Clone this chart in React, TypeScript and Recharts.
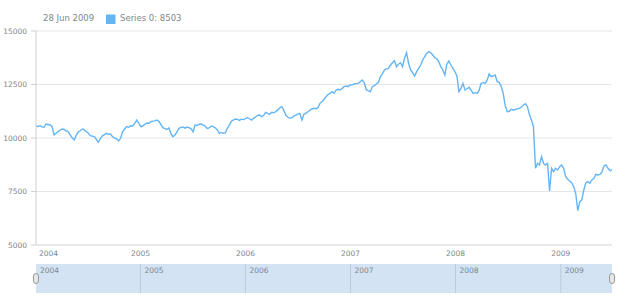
import React from 'react';
import { LineChart, Line, XAxis, YAxis, CartesianGrid, ReferenceLine, ReferenceArea } from 'recharts';

const v2004 = [10560, 10540, 10575, 10520, 10500, 10654, 10630, 10607, 10530, 10140, 10218, 10300, 10374, 10420, 10400, 10327, 10296, 10140, 10010, 9906, 10140, 10280, 10340, 10420, 10380, 10296, 10218, 10107, 10090, 10061, 9930, 9800, 9986, 10100, 10160, 10218, 10173, 10190, 10061, 10000, 9960, 9860, 9986, 10300, 10420, 10530, 10500, 10575, 10560, 10687, 10840, 10700];
const v2005 = [10530, 10560, 10640, 10700, 10680, 10760, 10790, 10800, 10840, 10780, 10640, 10480, 10440, 10400, 10470, 10200, 10060, 10140, 10280, 10450, 10500, 10520, 10460, 10510, 10480, 10430, 10290, 10610, 10590, 10640, 10650, 10600, 10560, 10450, 10470, 10560, 10530, 10480, 10380, 10220, 10260, 10220, 10240, 10450, 10600, 10780, 10840, 10890, 10870, 10820, 10880, 10860];
const v2006 = [10900, 10950, 10900, 10840, 10920, 10980, 11060, 11075, 10995, 11050, 11200, 11150, 11107, 11200, 11180, 11230, 11300, 11416, 11463, 11300, 11075, 10980, 10920, 10950, 11020, 11075, 11120, 11154, 10840, 11107, 11150, 11230, 11300, 11355, 11388, 11370, 11416, 11620, 11697, 11800, 11930, 12030, 12088, 12165, 12088, 12243, 12274, 12243, 12320, 12398, 12430, 12400, 12477];
const v2007 = [12480, 12523, 12540, 12555, 12632, 12710, 12586, 12243, 12212, 12165, 12398, 12450, 12520, 12600, 12865, 13000, 13178, 13230, 13256, 13411, 13520, 13612, 13332, 13450, 13519, 13332, 13724, 13986, 13490, 13178, 13050, 12897, 13099, 13256, 13411, 13645, 13800, 13956, 14034, 13986, 13878, 13750, 13700, 13567, 13332, 13178, 12944, 13450, 13598, 13411, 13256, 13099];
const v2008 = [12900, 12165, 12321, 12555, 12243, 12300, 12368, 12243, 12088, 12117, 12088, 12220, 12555, 12586, 12555, 12700, 12990, 12865, 12897, 12944, 12632, 12600, 12398, 12088, 11500, 11230, 11250, 11341, 11310, 11330, 11360, 11388, 11450, 11542, 11600, 11463, 11100, 10841, 10530, 8583, 8817, 8738, 9128, 8817, 8738, 8817, 7523, 8583, 8427, 8583, 8505, 8661];
const v2009 = [8738, 8583, 8193, 8069, 7990, 7900, 7724, 7400, 6602, 7023, 7103, 7570, 7900, 7958, 7883, 8037, 8115, 8300, 8271, 8300, 8400, 8692, 8738, 8583, 8473, 8503];

const yearLabels = ['2004', '2005', '2006', '2007', '2008', '2009'];
const yTicks = [5000, 7500, 10000, 12500, 15000];

const START = Date.UTC(2004, 0, 4);
const WEEK = 7 * 86400000;
const values = [...v2004, ...v2005, ...v2006, ...v2007, ...v2008, ...v2009];
const data = values.map((v, i) => ({ t: START + i * WEEK, v }));
const first = data[0].t;
const last = data[data.length - 1].t;
const yearTicks = yearLabels.map((y, i) => (i === 0 ? first : Date.UTC(Number(y), 0, 1)));

const MONTHS = ['Jan', 'Feb', 'Mar', 'Apr', 'May', 'Jun', 'Jul', 'Aug', 'Sep', 'Oct', 'Nov', 'Dec'];
const lastDate = new Date(last);
const headerDate = `${lastDate.getUTCDate()} ${MONTHS[lastDate.getUTCMonth()]} ${lastDate.getUTCFullYear()}`;
const lastValue = data[data.length - 1].v;

const FONT = 'DejaVu Sans';
const GREY = '#7c868e';
const LINE = '#64b5f6';

const XTick = (props: any) => {
  const { x, y, payload } = props;
  const isFirst = payload.value === first;
  return (
    <text x={isFirst ? x + 3 : x} y={y} dy="0.71em" textAnchor={isFirst ? 'start' : 'middle'} fontSize={7.5} fill={GREY} fontFamily={FONT}>
      {new Date(payload.value).getUTCFullYear()}
    </text>
  );
};

export default function App() {
  return (
    <div style={{ position: 'absolute', left: 0, top: 0, width: 620, height: 300, background: '#fff' }}>
      <svg width={620} height={30} style={{ position: 'absolute', left: 0, top: 0 }}>
        <text x={43} y={21.4} fontSize={8.5} fill={GREY} fontFamily={FONT}>{headerDate}</text>
        <rect x={106} y={14.5} width={9.5} height={9.5} fill={LINE} />
        <text x={120} y={21.4} fontSize={8.5} fill={GREY} fontFamily={FONT}>{`Series 0: ${lastValue}`}</text>
      </svg>
      <div style={{ position: 'absolute', left: 0, top: 0 }}>
        <LineChart width={620} height={265} data={data} margin={{ top: 31, right: 8, bottom: 0, left: 0 }}>
          <CartesianGrid vertical={false} stroke="#e6e6e6" />
          <XAxis
            dataKey="t"
            type="number"
            scale="linear"
            domain={[first, last]}
            ticks={yearTicks}
            tick={<XTick />}
            tickLine={false}
            axisLine={{ stroke: '#e0e0e0' }}
            tickSize={4}
            tickMargin={2}
            height={20}
            interval={0}
          />
          <YAxis
            type="number"
            domain={[5000, 15000]}
            ticks={yTicks}
            width={36}
            tickSize={5}
            tickMargin={4}
            tick={{ fontSize: 7.5, fill: GREY, fontFamily: FONT }}
            tickLine={{ stroke: '#cfcfcf' }}
            axisLine={{ stroke: '#cfcfcf' }}
            interval={0}
          />
          <Line type="linear" dataKey="v" stroke={LINE} strokeWidth={1.4} dot={false} isAnimationActive={false} />
        </LineChart>
      </div>
      <div style={{ position: 'absolute', left: 0, top: 264 }}>
        <LineChart width={620} height={29} data={data} margin={{ top: 0, right: 8, bottom: 0, left: 36 }}>
          <XAxis dataKey="t" type="number" domain={[first, last]} hide />
          <YAxis domain={[0, 1]} hide />
          <ReferenceArea x1={first} x2={last} fill="#d3e3f4" fillOpacity={1} stroke="none" />
          {yearTicks.map((t, i) => (
            <ReferenceLine
              key={yearLabels[i]}
              x={t}
              stroke={i === 0 ? 'none' : '#bccbdb'}
              label={{ value: yearLabels[i], position: 'insideTopLeft', offset: 4, fill: GREY, fontSize: 7.5, fontFamily: FONT }}
            />
          ))}
          <Line type="linear" dataKey="v" stroke="none" dot={false} isAnimationActive={false} />
        </LineChart>
      </div>
      <div style={{ position: 'absolute', left: 33, top: 273, width: 6, height: 11, borderRadius: 3, background: '#e6e6e6', border: '1px solid #9a9a9a', boxSizing: 'border-box' }} />
      <div style={{ position: 'absolute', left: 609, top: 273, width: 6, height: 11, borderRadius: 3, background: '#e6e6e6', border: '1px solid #9a9a9a', boxSizing: 'border-box' }} />
    </div>
  );
}
